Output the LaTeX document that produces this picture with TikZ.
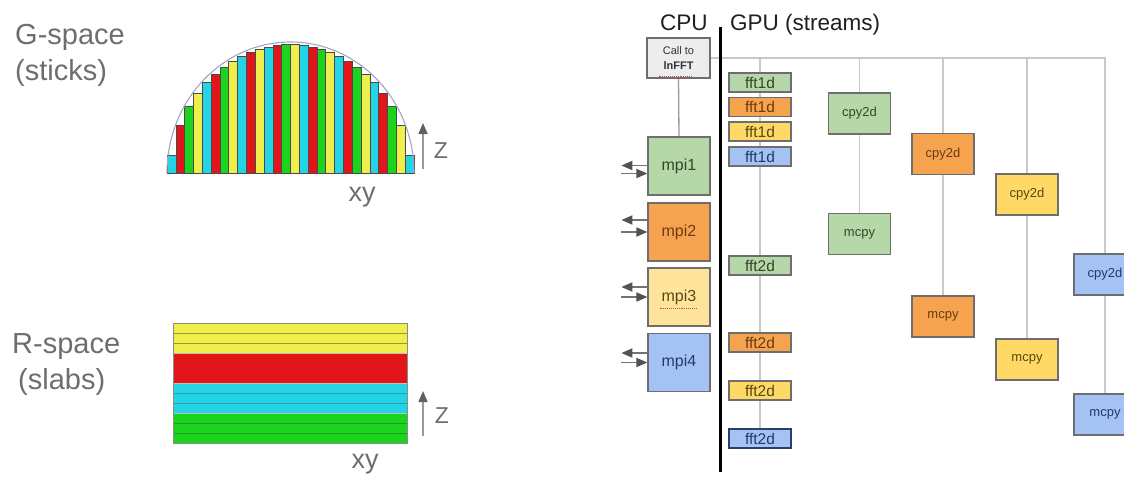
\documentclass[tikz,border=0pt]{standalone}
\usepackage{fontspec}
\setmainfont{Liberation Sans}
\usetikzlibrary{arrows.meta,backgrounds}

% stick and slab colours
\definecolor{bc}{HTML}{22D4E6}
\definecolor{br}{HTML}{E2161A}
\definecolor{bg}{HTML}{1CD41E}
\definecolor{by}{HTML}{F0EE4C}
\definecolor{barline}{HTML}{4A4A4A}
\definecolor{sylin}{HTML}{9C9A2E}
\definecolor{srlin}{HTML}{D81818}
\definecolor{sclin}{HTML}{2E9FB0}
\definecolor{sglin}{HTML}{1E9E20}
\definecolor{domeline}{HTML}{A2A4C4}
% box colours
\definecolor{cgreen}{HTML}{B6D7A8}
\definecolor{corange}{HTML}{F6A34F}
\definecolor{cyellow}{HTML}{FFD966}
\definecolor{cpale}{HTML}{FFE59C}
\definecolor{cblue}{HTML}{A4C2F4}
\definecolor{callgray}{HTML}{EDEDED}
\definecolor{boxline}{HTML}{6E6E6E}
\definecolor{navyline}{HTML}{2A3F66}
\definecolor{tgreen}{HTML}{35452C}
\definecolor{torange}{HTML}{6B3A12}
\definecolor{tyellow}{HTML}{574814}
\definecolor{tblue}{HTML}{1F3B6B}
\definecolor{wire}{HTML}{C9C9C9}
\definecolor{labelgray}{HTML}{6E6E6E}
\definecolor{spellred}{HTML}{E04040}

\begin{document}
\begin{tikzpicture}[x=1pt,y=-1pt,
  lbl/.style={text=labelgray, inner sep=0pt, font=\fontsize{29}{32}\selectfont},
  axis/.style={text=labelgray, inner sep=0pt, font=\fontsize{27}{30}\selectfont},
  zlbl/.style={text=labelgray, inner sep=0pt, font=\fontsize{23}{26}\selectfont},
  head/.style={text=black!88, inner sep=0pt, font=\fontsize{22.5}{25}\selectfont},
  zarrow/.style={draw=black!40, line width=1.5pt, -{Triangle[length=11pt,width=9pt,color=black!62]}},
  ioarrow/.style={draw=black!55, line width=1.8pt, -{Triangle[length=11pt,width=9pt,color=black!68]}},
  box/.style={draw=boxline, line width=1.2pt, rectangle, inner sep=0pt},
  mpibox/.style={box, minimum width=62pt, minimum height=58pt, font=\fontsize{16}{18}\selectfont},
  fftbox/.style={box, minimum width=62pt, minimum height=19pt, font=\fontsize{15.5}{17}\selectfont},
  cpybox/.style={box, minimum width=62pt, minimum height=41pt, font=\fontsize{13}{15}\selectfont},
  wireline/.style={draw=wire, line width=1.5pt},
  spell/.style={draw=spellred, line width=1.1pt, densely dotted}]

\useasboundingbox (0,0) rectangle (1124,480);
\clip (0,0) rectangle (1124,480);

% ---------- G-space: sticks under a half dome ----------
\node[lbl, anchor=base west] (gsp) at (15,44.5) {G-space};
\node[lbl, anchor=base west] (gst) at (15,80) {(sticks)};

\foreach \c [count=\i from 0] in {bc,br,bg,by,bc,br,bg,by,bc,br,by,bc,br,bg,by,bc,br,bg,by,bc,br,bg,by,bc,br,bg,by,bc} {
  \pgfmathsetmacro\xl{167+\i*8.821}
  \pgfmathsetmacro\dd{max(abs(\xl-290.5),abs(\xl+8.821-290.5))}
  \pgfmathsetmacro\hh{max(18,129*sqrt(max(0,1-(\dd/123.5)^2)))}
  \draw[fill=\c, draw=barline, line width=0.6pt] (\xl,173) rectangle ++(8.821,-\hh);
}
\draw[domeline, line width=1.1pt] (167,173) arc[start angle=180, end angle=360, x radius=123.5, y radius=131];

\draw[zarrow] (423,169) -- (423,123);
\node[zlbl] (z1) at (441,151) {Z};
\node[axis] (xy1) at (362,197) {xy};

% ---------- R-space: stacked slabs ----------
\node[lbl, anchor=base west] (rsp) at (12,353.5) {R-space};
\node[lbl, anchor=base west] (rsl) at (18,389) {(slabs)};

\foreach \fc/\lc [count=\k from 0] in {by/sylin,by/sylin,by/sylin,br/srlin,br/srlin,br/srlin,bc/sclin,bc/sclin,bc/sclin,bg/sglin,bg/sglin,bg/sglin} {
  \draw[fill=\fc, draw=\lc, line width=0.8pt] (173,323+\k*10) rectangle ++(234,10);
}
\foreach \yy in {353,383,413}
  \draw[black!25, line width=1pt] (173,\yy) -- (407,\yy);
\draw[black!45, line width=0.8pt] (173,323) rectangle (407,443);

\draw[zarrow] (423,436) -- (423,391);
\node[zlbl] (z2) at (442,416) {Z};
\node[axis] (xy2) at (365,464) {xy};

% ---------- CPU / GPU streams ----------
\node[head, anchor=base west] (cpu) at (660,30) {CPU};
\node[head, anchor=base west] (gpu) at (730,30) {GPU (streams)};
\draw[black, line width=3pt] (720,27) -- (720,472);

\node[box, fill=callgray, minimum width=63pt, minimum height=40pt, align=center,
      text=black!80, font=\fontsize{11}{14.5}\selectfont] (call) at (678.5,58) {Call to\\\textbf{lnFFT}};

\node[mpibox, fill=cgreen,  text=tgreen]  (mpi1) at (679,166)   {mpi1};
\node[mpibox, fill=corange, text=torange] (mpi2) at (679,232)   {mpi2};
\node[mpibox, fill=cpale,   text=tyellow] (mpi3) at (679,297)   {mpi3};
\node[mpibox, fill=cblue,   text=tblue]   (mpi4) at (679,362.5) {mpi4};

\node[fftbox, fill=cgreen,  text=tgreen]  (f1a) at (760,82.5)  {fft1d};
\node[fftbox, fill=corange, text=torange] (f1b) at (760,107)   {fft1d};
\node[fftbox, fill=cyellow, text=tyellow] (f1c) at (760,131.5) {fft1d};
\node[fftbox, fill=cblue,   text=tblue]   (f1d) at (760,156.5) {fft1d};

\node[fftbox, fill=cgreen,  text=tgreen]  (f2a) at (760,265.5) {fft2d};
\node[fftbox, fill=corange, text=torange] (f2b) at (760,342.5) {fft2d};
\node[fftbox, fill=cyellow, text=tyellow] (f2c) at (760,390.5) {fft2d};
\node[fftbox, fill=cblue,   text=tblue, draw=navyline] (f2d) at (760,438.5) {fft2d};

\node[cpybox, fill=cgreen,  text=tgreen]  (cg) at (859.5,113.5) {cpy2d};
\node[cpybox, fill=cgreen,  text=tgreen]  (mg) at (859.5,234)   {mcpy};
\node[cpybox, fill=corange, text=torange] (co) at (943,154)     {cpy2d};
\node[cpybox, fill=corange, text=torange] (mo) at (943,316.5)   {mcpy};
\node[cpybox, fill=cyellow, text=tyellow] (cy) at (1027,194.5)  {cpy2d};
\node[cpybox, fill=cyellow, text=tyellow] (my) at (1027,359.5)  {mcpy};
\node[cpybox, fill=cblue,   text=tblue]   (cb) at (1105,274.5)  {cpy2d};
\node[cpybox, fill=cblue,   text=tblue]   (mb) at (1105,414.5)  {mcpy};

% stream wires, behind the boxes
\coordinate (t1) at (760,58);
\coordinate (t2) at (859.5,58);
\coordinate (t3) at (943,58);
\coordinate (t4) at (1027,58);
\coordinate (tr) at (1105,58);
\begin{scope}[on background layer]
  \draw[wireline] (call.east) -- (tr) -- (cb.north);
  \draw[wireline] (t1) -- (f2d.north);
  \draw[wireline] (t2) -- (cg.north);
  \draw[wireline] (cg.south) -- (mg.north);
  \draw[wireline] (t3) -- (co.north);
  \draw[wireline] (co.south) -- (mo.north);
  \draw[wireline] (t4) -- (cy.north);
  \draw[wireline] (cy.south) -- (my.north);
  \draw[wireline] (cb.south) -- (mb.north);
  \draw[draw=black!40, line width=1.3pt] (call.south) -- (mpi1.north);
\end{scope}

% MPI send / receive arrows
\draw[ioarrow] ([shift={(0,-0.5)}]mpi1.west) -- ++(-26,0);
\draw[ioarrow] ([shift={(-26,7.5)}]mpi1.west) -- ([shift={(0,7.5)}]mpi1.west);
\draw[ioarrow] ([shift={(0,-12)}]mpi2.west) -- ++(-26,0);
\draw[ioarrow] ([shift={(-26,0)}]mpi2.west) -- (mpi2.west);
\draw[ioarrow] ([shift={(0,-10)}]mpi3.west) -- ++(-26,0);
\draw[ioarrow] ([shift={(-26,0)}]mpi3.west) -- (mpi3.west);
\draw[ioarrow] ([shift={(0,-9.5)}]mpi4.west) -- ++(-26,0);
\draw[ioarrow] ([shift={(-26,0)}]mpi4.west) -- (mpi4.west);

% spell-check marks
\draw[spell] ([shift={(13,-2.5)}]call.south west) -- ++(32,0);
\draw[spell] ([shift={(13,-18)}]mpi3.south west) -- ++(36,0);
\end{tikzpicture}
\end{document}
